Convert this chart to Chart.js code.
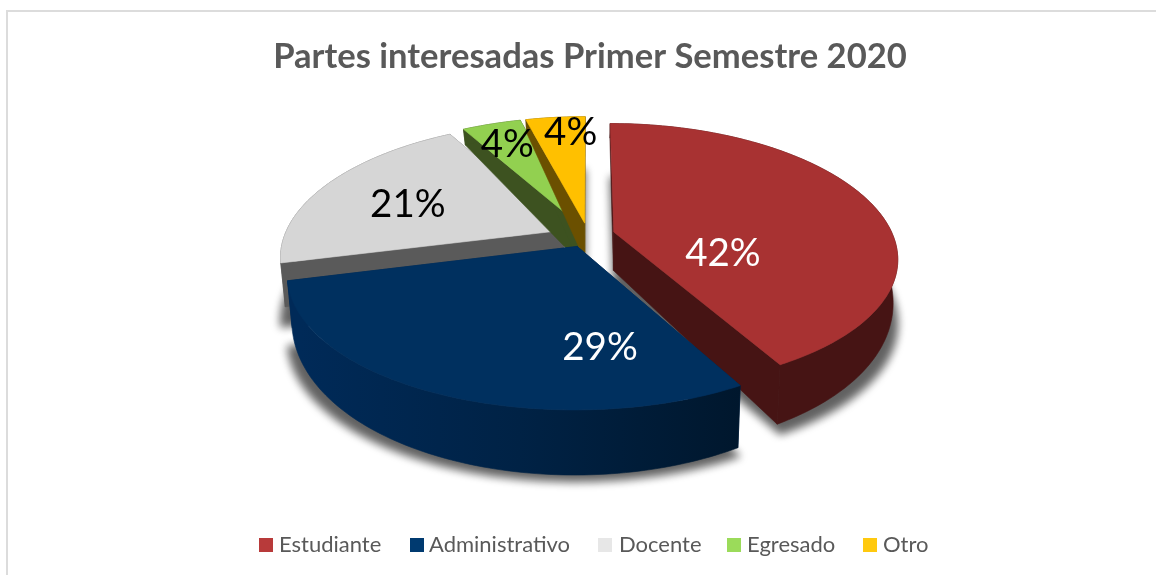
<!DOCTYPE html>
<html><head><meta charset="utf-8">
<style>html,body{margin:0;padding:0;background:#fff}#w{position:relative;width:1156px;height:575px}canvas{display:block}</style>
<script src="https://cdn.jsdelivr.net/npm/chart.js@4"></script></head>
<body><div id="w"><canvas id="c" width="1156" height="575"></canvas></div>
<script>
const categories = ['Estudiante','Administrativo','Docente','Egresado','Otro'];
const shares = [42,29,21,4,4];
const titleText = 'Partes interesadas Primer Semestre 2020';
const topColors = ['#a83232','#00305f','#d6d6d6','#92d050','#ffc000'];
const wallColors = ['#461414','#002750','#5a5a5a','#3d5220','#6b5000'];
const legendColors = ['#b83a3a','#003a70','#e7e7e7','#9bdb5a','#ffc90e'];
const labelColors = ['#fff','#fff','#000','#000','#000'];

// view settings for the tilted, exploded pie
const RADIUS = 279, TILT = 0.455, FONT = 'Lato, Carlito, sans-serif';
const paintOrder = [2,3,4,0,1];
const labelFrac = [0.40,0.36,0.62,0.85,0.95];
const labelNudge = [[4,34],[67,55],[-6,4],[4,7],[14,10]];
const legendBoxX = [259,410,598,727,863];
const legendTextX = [279,429,619,747,883];

function sliceGeom(el){
  const s = RADIUS/el.outerRadius;
  const a0 = el.startAngle+Math.PI/2, a1 = el.endAngle+Math.PI/2, m=(a0+a1)/2;
  const off = (el.options.offset||0)*s;
  return {a0,a1,ou:off*Math.sin(m),ov:-off*Math.cos(m),cx:el.x-2,cy:el.y};
}
function proj(g,r,a,level){
  // level 0 = top face, 1 = bottom face, 2 = cast shadow
  const u=g.ou+r*Math.sin(a), v=g.ov-r*Math.cos(a), n=v/RADIUS;
  const f=1+0.19*n+0.05*n*n;
  const xs=level===1?0.985:1;
  let y=g.cy+v*TILT*f;
  if(level>=1) y+=39+24*n;
  if(level===2) y+=23.5-15.5*n;
  return [g.cx+u*f*xs,y];
}
function arcPts(g,level,a0,a1){
  const pts=[],N=Math.max(2,Math.ceil((a1-a0)/0.02));
  for(let i=0;i<=N;i++) pts.push(proj(g,RADIUS,a0+(a1-a0)*i/N,level));
  return pts;
}
function fillPoly(ctx,pts,fill){
  ctx.beginPath();pts.forEach((p,i)=>i?ctx.lineTo(p[0],p[1]):ctx.moveTo(p[0],p[1]));
  ctx.closePath();ctx.fillStyle=fill;ctx.fill();
  ctx.strokeStyle=fill;ctx.lineWidth=0.6;ctx.stroke();
}
const pie3d={
  id:'pie3d',
  beforeDatasetsDraw(chart){
    const ctx=chart.ctx, els=chart.getDatasetMeta(0).data;
    ctx.save();
    ctx.filter='blur(4px)';
    paintOrder.forEach(i=>{
      const g=sliceGeom(els[i]);
      fillPoly(ctx,[proj(g,0,0,2),...arcPts(g,2,g.a0,g.a1)],'rgba(0,0,0,0.62)');
    });
    ctx.filter='none';
    paintOrder.forEach(i=>{
      const g=sliceGeom(els[i]);
      const wall=wallColors[i];
      [g.a0,g.a1].forEach(a=>fillPoly(ctx,[proj(g,0,0,0),proj(g,RADIUS,a,0),proj(g,RADIUS,a,1),proj(g,0,0,1)],wall));
      const t=arcPts(g,0,g.a0,g.a1), b=arcPts(g,1,g.a0,g.a1);
      let fill=wall;
      if(i===1){
        fill=ctx.createLinearGradient(300,0,740,0);
        fill.addColorStop(0,'#002a58');fill.addColorStop(0.5,'#002245');fill.addColorStop(1,'#00172d');
      }
      fillPoly(ctx,[...t,...b.reverse()],fill);
      fillPoly(ctx,[proj(g,0,0,0),...t],topColors[i]);
    });
    ctx.font='38.5px '+FONT;ctx.textAlign='center';ctx.textBaseline='middle';
    els.forEach((el,i)=>{
      const g=sliceGeom(el),m=(g.a0+g.a1)/2;
      const p=proj(g,RADIUS*labelFrac[i],m,0);
      ctx.fillStyle=labelColors[i];
      ctx.fillText(shares[i]+'%',p[0]+labelNudge[i][0],p[1]+labelNudge[i][1]);
    });
    ctx.font='22px '+FONT;ctx.textAlign='left';
    categories.forEach((c,i)=>{
      ctx.fillStyle=legendColors[i];ctx.fillRect(legendBoxX[i],538,14,14);
      ctx.fillStyle='#595959';ctx.fillText(c,legendTextX[i],545);
    });
    ctx.fillStyle='#dcdcdc';ctx.fillRect(6,10,1150,2);ctx.fillRect(6,10,2,565);
    ctx.restore();
    return false;
  }
};
new Chart(document.getElementById('c'),{
  type:'pie',
  data:{labels:categories,datasets:[{data:shares,backgroundColor:topColors,borderWidth:0,offset:13.5}]},
  options:{
    responsive:false,animation:false,
    layout:{padding:{left:24,bottom:192.4}},
    plugins:{
      legend:{display:false},tooltip:{enabled:false},
      title:{display:true,text:titleText,color:'#595959',font:{family:FONT,size:34.6,weight:'bold'},padding:{top:36,bottom:10}}
    }
  },
  plugins:[pie3d]
});
</script></body></html>
